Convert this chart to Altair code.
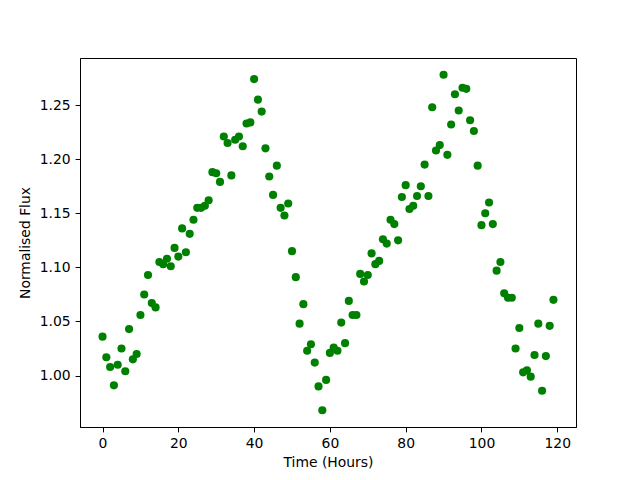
import altair as alt
import pandas as pd

hours = list(range(120))
flux = [
    1.036, 1.017, 1.008, 0.991, 1.010, 1.025, 1.004, 1.043, 1.015, 1.020,
    1.056, 1.075, 1.093, 1.067, 1.063, 1.105, 1.103, 1.108, 1.101, 1.118,
    1.110, 1.136, 1.114, 1.131, 1.144, 1.155, 1.155, 1.157, 1.162, 1.188,
    1.187, 1.179, 1.221, 1.215, 1.185, 1.218, 1.221, 1.212, 1.233, 1.234,
    1.274, 1.255, 1.244, 1.210, 1.184, 1.167, 1.194, 1.155, 1.148, 1.159,
    1.115, 1.091, 1.048, 1.066, 1.023, 1.029, 1.012, 0.990, 0.968, 0.996,
    1.021, 1.026, 1.023, 1.049, 1.030, 1.069, 1.056, 1.056, 1.094, 1.087,
    1.093, 1.113, 1.103, 1.106, 1.126, 1.122, 1.144, 1.140, 1.125, 1.165,
    1.176, 1.154, 1.157, 1.166, 1.175, 1.195, 1.166, 1.248, 1.208, 1.213,
    1.278, 1.204, 1.232, 1.260, 1.245, 1.266, 1.265, 1.236, 1.226, 1.194,
    1.139, 1.150, 1.160, 1.140, 1.097, 1.105, 1.076, 1.072, 1.072, 1.025,
    1.044, 1.003, 1.005, 0.999, 1.019, 1.048, 0.986, 1.018, 1.046, 1.070,
]
x_ticks = [0, 20, 40, 60, 80, 100, 120]
y_ticks = [1.00, 1.05, 1.10, 1.15, 1.20, 1.25]

df = pd.DataFrame({"hour": hours, "flux": flux})

axis_common = dict(
    domainColor="black", domainWidth=1, tickColor="black", tickSize=4.9, tickWidth=1,
    labelColor="black", labelFont="DejaVu Sans", labelFontSize=13.9, labelPadding=4.9,
    titleFont="DejaVu Sans", titleFontSize=13.9, titleFontWeight="normal", titleColor="black",
    grid=False,
)

chart = alt.Chart(df).mark_circle(color="#008000", size=66, opacity=1).encode(
    x=alt.X("hour:Q", title="Time (Hours)",
            scale=alt.Scale(domain=[-5.95, 124.95], nice=False, zero=False),
            axis=alt.Axis(values=x_ticks, format="d", titlePadding=5, **axis_common)),
    y=alt.Y("flux:Q", title="Normalised Flux",
            scale=alt.Scale(domain=[0.9525, 1.2935], nice=False, zero=False),
            axis=alt.Axis(values=y_ticks, format=".2f", titlePadding=7, **axis_common)),
).properties(
    width=496, height=369,
    autosize=alt.AutoSizeParams(type="none"),
    padding={"left": 72, "top": 50, "right": 56, "bottom": 45},
).configure_view(stroke="black", strokeWidth=1)

chart.save("out.html", embed_options={"renderer": "svg", "actions": False})
